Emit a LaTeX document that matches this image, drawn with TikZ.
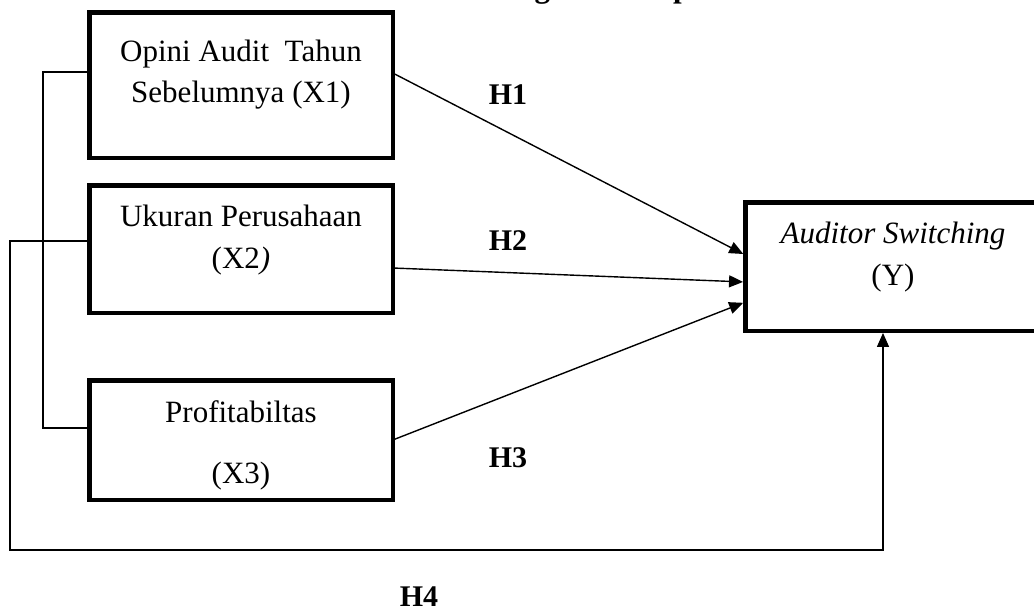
\documentclass[tikz,border=0pt]{standalone}
\usepackage{fontspec}
\setmainfont{Liberation Serif}
\usetikzlibrary{arrows.meta,calc}
\begin{document}
\begin{tikzpicture}[x=1pt,y=-1pt,
  varbox/.style={draw, line width=4.5pt, inner sep=0pt, outer sep=0pt},
  txt/.style={font=\fontsize{31}{37}\selectfont, anchor=base, inner sep=0pt},
  hyp/.style={font=\fontsize{30}{36}\selectfont\bfseries, anchor=base, inner sep=0pt},
  conn/.style={line width=1.4pt},
  arr/.style={conn, shorten >=2.2pt, -{Triangle[length=14pt,width=12pt]}}]
\useasboundingbox (0,0) rectangle (1034,614);
\clip (0,0) rectangle (1034,614);
% partially visible title (cut off at the top edge, as in the reference)
\node[hyp, anchor=base west, font=\fontsize{31}{37}\selectfont\bfseries] (title) at (450,-3) {Kerangka Konseptual};
% boxes
\node[varbox, minimum width=303.5pt, minimum height=145.5pt] (X1) at (241,85) {};
\node[varbox, minimum width=303.5pt, minimum height=127.5pt] (X2) at (241,249) {};
\node[varbox, minimum width=303.5pt, minimum height=119.5pt] (X3) at (241,440) {};
\node[varbox, minimum width=295.5pt, minimum height=128.5pt] (Y) at (893,266.5) {};
% box texts
\node[txt] (t1a) at (241,61) {Opini Audit\ \ Tahun};
\node[txt] (t1b) at (241,102) {Sebelumnya (X1)};
\node[txt] (t2a) at (241,226) {Ukuran Perusahaan};
\node[txt] (t2b) at (241,268) {(X2\textit{)}};
\node[txt] (t3a) at (241,422) {Profitabiltas};
\node[txt] (t3b) at (241,483) {(X3)};
\node[txt] (ty1) at (893,243) {\textit{Auditor Switching}};
\node[txt] (ty2) at (893,285) {(Y)};
% hypothesis labels
\node[hyp] (h1) at (508,104) {H1};
\node[hyp] (h2) at (508,250) {H2};
\node[hyp] (h3) at (508,467) {H3};
\node[hyp] (h4) at (419,606) {H4};
% helper coordinates
\coordinate (br) at (43,250);
\coordinate (lp) at (10,550);
% arrows
\draw[arr] ([yshift=12pt]X1.east) -- ([yshift=11.5pt]Y.west);
\draw[arr] ([yshift=-19pt]X2.east) -- ([yshift=-15.5pt]Y.west);
\draw[arr] (X3.east) -- ([yshift=-35.5pt]Y.west);
% bracket
\draw[conn] ([yshift=13pt]X1.west) -| (br) |- ([yshift=12pt]X3.west);
% loop
\draw[arr] ([yshift=8pt]X2.west) -| (lp) -| ([xshift=-10pt]Y.south);
\end{tikzpicture}
\end{document}
